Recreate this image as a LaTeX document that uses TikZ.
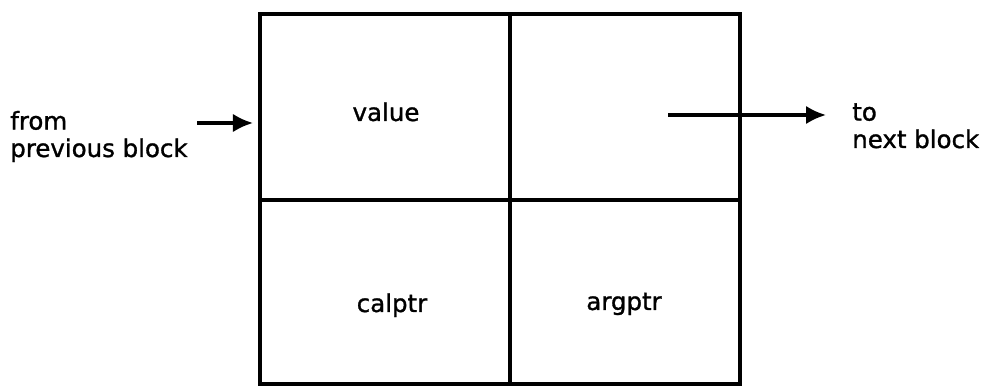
\documentclass[tikz,border=0pt]{standalone}
\usepackage{fontspec}
\setmainfont{DejaVu Sans}
\newfontfamily\blockfont{DejaVu Sans}[FakeBold=1.2]
\usetikzlibrary{arrows.meta}

\tikzset{
  cellline/.style={line width=2.2pt, line join=miter},
  ptrarrow/.style={line width=2.2pt, -{Latex[length=5mm,width=4.6mm]}},
  field/.style={inner sep=0pt, anchor=base, font=\blockfont\fontsize{17.4}{19.5}\selectfont},
  sidelabel/.style={inner sep=0pt, anchor=base west, align=left, font=\blockfont\fontsize{17.4}{19.5}\selectfont}
}

\begin{document}
\begin{tikzpicture}[x=0.025cm,y=0.025cm]
            \useasboundingbox (0,0) rectangle (988,387);

            % the block
            \coordinate (bl) at (260,3);
            \coordinate (tr) at (740,373);
            \draw[cellline] (bl) rectangle (tr);
            \draw[cellline] (510,3) -- (510,373);
            \draw[cellline] (260,187) -- (740,187);

            \node[field] (value) at (386,266) {value};
            \node[field] (calptr) at (392,75) {calptr};
            \node[field] (argptr) at (624,77) {argptr};

            % base anchor sits on the last line
            \node[sidelabel] (from) at (10,230) {from\\previous block};
            \node[sidelabel] (to) at (852,239) {to\\next block};

            \coordinate (intail) at (197,264);
            \coordinate (inhead) at (253,264);
            \coordinate (outtail) at (668,272);
            \coordinate (outhead) at (826,272);

            \path[ptrarrow] (intail) edge (inhead);
            \path[ptrarrow] (outtail) edge (outhead);
        \end{tikzpicture}
\end{document}
